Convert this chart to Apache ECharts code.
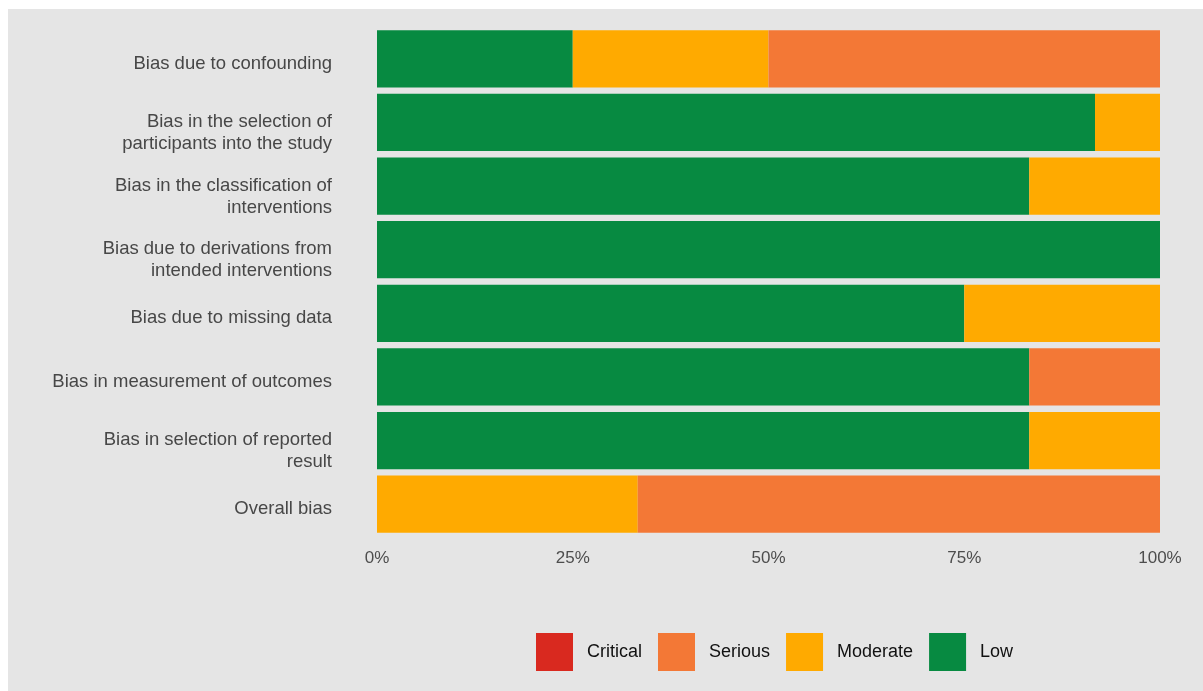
<!DOCTYPE html>
<html>
<head>
<meta charset="utf-8">
<script src="https://cdn.jsdelivr.net/npm/echarts@6/dist/echarts.min.js"></script>
<style>
    html, body { margin: 0; padding: 0; background: #ffffff; }
    #chart { position: absolute; left: 8px; top: 9px; width: 1195px; height: 682px; }
</style>
</head>
<body>
<div id="chart"></div>
<script>
const domains = [
    "Bias due to confounding",
    "Bias in the selection of\nparticipants into the study",
    "Bias in the classification of\ninterventions",
    "Bias due to derivations from\nintended interventions",
    "Bias due to missing data",
    "Bias in measurement of outcomes",
    "Bias in selection of reported\nresult",
    "Overall bias"
];

const lowValues      = [25, 91.7, 83.3, 100, 75, 83.3, 83.3, 0];
const moderateValues = [25, 8.3, 16.7, 0, 25, 0, 16.7, 33.3];
const seriousValues  = [50, 0, 0, 0, 0, 16.7, 0, 66.7];
const criticalValues = [0, 0, 0, 0, 0, 0, 0, 0];

const legendNames = ["Critical", "Serious", "Moderate", "Low"];
const xTicks = [0, 25, 50, 75, 100];

const colors = {
    Low: "#078a41",
    Moderate: "#ffaa00",
    Serious: "#f37836",
    Critical: "#d9291f"
};

function makeSeries(name, data) {
    return {
        name: name,
        type: "bar",
        stack: "risk",
        barCategoryGap: "10%",
        itemStyle: { color: colors[name] },
        data: data
    };
}

// labels sit a little below the bar centre in the original
function yLabel(value) {
    const lines = value.split("\n");
    if (lines.length === 1) return "{s|" + value + "}";
    return "{t|" + lines[0] + "}\n{m|" + lines[1] + "}";
}

const chart = echarts.init(document.getElementById("chart"));

chart.setOption({
    backgroundColor: "#e5e5e5",
    animation: false,
    textStyle: { fontFamily: "Liberation Sans, Arial, sans-serif" },

    grid: {
        left: 369,
        right: 43,
        top: 18,
        bottom: 155
    },

    legend: {
        data: legendNames,
        left: 523,
        top: 619,
        itemWidth: 37,
        itemHeight: 38,
        itemGap: 16,
        icon: "rect",
        textStyle: {
            fontSize: 18,
            color: "#111111",
            padding: [0, 0, 0, 9]
        }
    },

    xAxis: {
        type: "value",
        min: xTicks[0],
        max: xTicks[xTicks.length - 1],
        interval: 25,
        axisLine: { show: false },
        axisTick: { show: false },
        splitLine: { show: false },
        axisLabel: {
            margin: 14,
            fontSize: 17,
            color: "#4d4d4d",
            formatter: v => v + "%"
        }
    },

    yAxis: {
        type: "category",
        inverse: true,
        data: domains,
        axisLine: { show: false },
        axisTick: { show: false },
        axisLabel: {
            margin: 45,
            fontSize: 18.5,
            color: "#474747",
            formatter: yLabel,
            rich: {
                s: { fontSize: 18.5, color: "#474747", padding: [10, 0, 0, 0] },
                t: { fontSize: 18.5, color: "#474747", padding: [21, 0, 0, 0] },
                m: { fontSize: 18.5, color: "#474747", lineHeight: 22, padding: [3, 0, 0, 0] }
            }
        }
    },

    series: [
        makeSeries("Low", lowValues),
        makeSeries("Moderate", moderateValues),
        makeSeries("Serious", seriousValues),
        makeSeries("Critical", criticalValues)
    ]
});
</script>
</body>
</html>
